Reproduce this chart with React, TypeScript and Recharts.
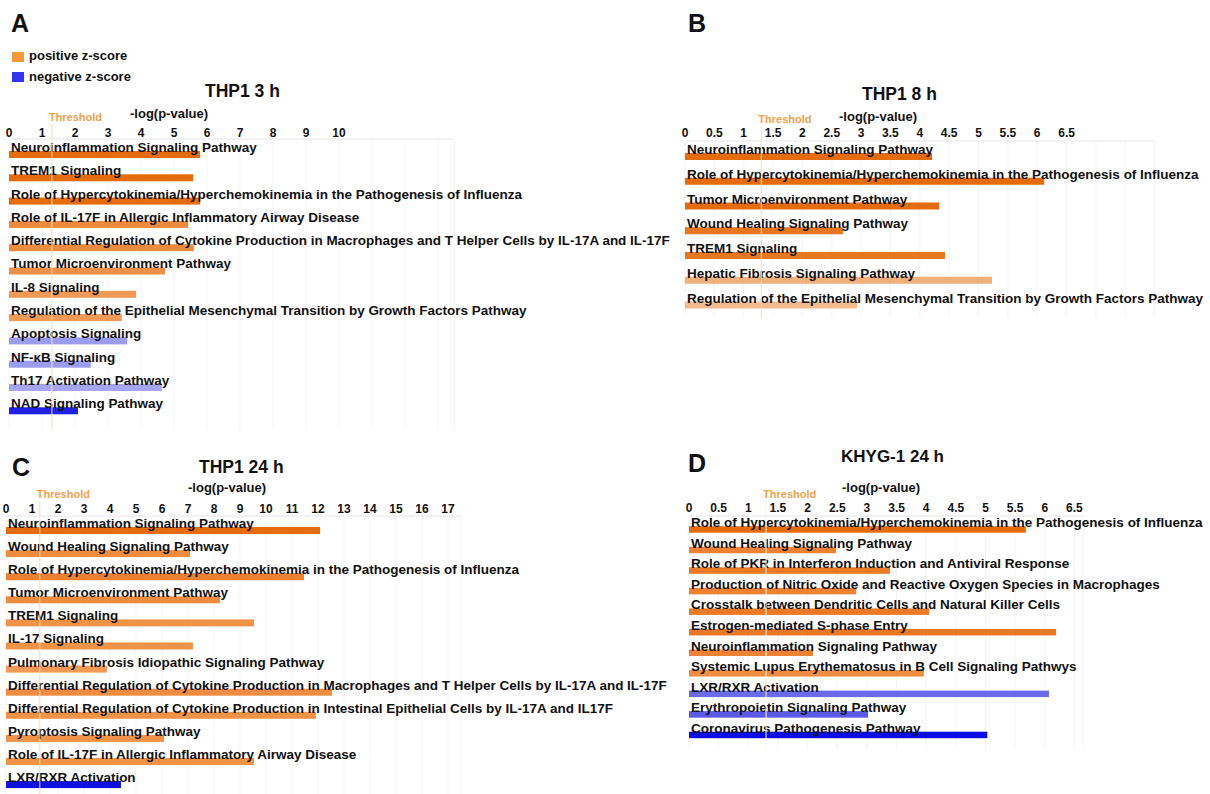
import { Bar, BarChart, CartesianGrid, ReferenceLine, XAxis, YAxis } from "recharts";

const FONT = "Arial, 'Liberation Sans', Helvetica, sans-serif";
const THRESHOLD = 1.3; // -log10(0.05)

// Panel A - THP1 3 h
const A_NAMES = [
  "Neuroinflammation Signaling Pathway",
  "TREM1 Signaling",
  "Role of Hypercytokinemia/Hyperchemokinemia in the Pathogenesis of Influenza",
  "Role of IL-17F in Allergic Inflammatory Airway Disease",
  "Differential Regulation of Cytokine Production in Macrophages and T Helper Cells by IL-17A and IL-17F",
  "Tumor Microenvironment Pathway",
  "IL-8 Signaling",
  "Regulation of the Epithelial Mesenchymal Transition by Growth Factors Pathway",
  "Apoptosis Signaling",
  "NF-κB Signaling",
  "Th17 Activation Pathway",
  "NAD Signaling Pathway",
];
const A_VALUES = [5.79, 5.58, 5.79, 5.43, 5.6, 4.73, 3.85, 3.42, 3.58, 2.48, 4.63, 2.09];
const A_COLORS = [
  "#e46c0a", "#e46c0a", "#e46c0a", "#ec8a3e", "#ec8a3e", "#ee9048",
  "#f09a55", "#f09a55", "#9c9cee", "#9c9cee", "#a4a4f0", "#1f1fe6",
];
const A_TICKS = [0, 1, 2, 3, 4, 5, 6, 7, 8, 9, 10, 11, 12, 13];

// Panel B - THP1 8 h
const B_NAMES = [
  "Neuroinflammation Signaling Pathway",
  "Role of Hypercytokinemia/Hyperchemokinemia in the Pathogenesis of Influenza",
  "Tumor Microenvironment Pathway",
  "Wound Healing Signaling Pathway",
  "TREM1 Signaling",
  "Hepatic Fibrosis Signaling Pathway",
  "Regulation of the Epithelial Mesenchymal Transition by Growth Factors Pathway",
];
const B_VALUES = [4.21, 6.12, 4.33, 2.69, 4.43, 5.23, 2.93];
const B_COLORS = ["#e46c0a", "#e46c0a", "#e46c0a", "#e8761c", "#e8781e", "#f2b07a", "#f4bc8e"];
const B_TICKS = [0, 0.5, 1, 1.5, 2, 2.5, 3, 3.5, 4, 4.5, 5, 5.5, 6, 6.5, 7, 7.5, 8];

// Panel C - THP1 24 h
const C_NAMES = [
  "Neuroinflammation Signaling Pathway",
  "Wound Healing Signaling Pathway",
  "Role of Hypercytokinemia/Hyperchemokinemia in the Pathogenesis of Influenza",
  "Tumor Microenvironment Pathway",
  "TREM1 Signaling",
  "IL-17 Signaling",
  "Pulmonary Fibrosis Idiopathic Signaling Pathway",
  "Differential Regulation of Cytokine Production in Macrophages and T Helper Cells by IL-17A and IL-17F",
  "Differential Regulation of Cytokine Production in Intestinal Epithelial Cells by IL-17A and IL17F",
  "Pyroptosis Signaling Pathway",
  "Role of IL-17F in Allergic Inflammatory Airway Disease",
  "LXR/RXR Activation",
];
const C_VALUES = [12.08, 7.08, 11.46, 8.23, 9.54, 7.19, 3.88, 12.54, 11.92, 6.08, 9.54, 4.42];
const C_COLORS = [
  "#e46c0a", "#ee8c40", "#eb8030", "#ee8c40", "#ef9347", "#ef9347",
  "#f09a55", "#ee8c40", "#ef9347", "#ef9347", "#ef9347", "#1010e0",
];
const C_TICKS = [0, 1, 2, 3, 4, 5, 6, 7, 8, 9, 10, 11, 12, 13, 14, 15, 16, 17];

// Panel D - KHYG-1 24 h
const D_NAMES = [
  "Role of Hypercytokinemia/Hyperchemokinemia in the Pathogenesis of Influenza",
  "Wound Healing Signaling Pathway",
  "Role of PKR in Interferon Induction and Antiviral Response",
  "Production of Nitric Oxide and Reactive Oxygen Species in Macrophages",
  "Crosstalk between Dendritic Cells and Natural Killer Cells",
  "Estrogen-mediated S-phase Entry",
  "Neuroinflammation Signaling Pathway",
  "Systemic Lupus Erythematosus in B Cell Signaling Pathwys",
  "LXR/RXR Activation",
  "Erythropoietin Signaling Pathway",
  "Coronavirus Pathogenesis Pathway",
];
const D_VALUES = [5.68, 2.48, 3.39, 2.82, 4.05, 6.19, 2.09, 3.96, 6.07, 3.02, 5.03];
const D_COLORS = [
  "#e46c0a", "#ec8232", "#ea7a25", "#ec8232", "#ea7a25", "#e97826",
  "#ec8232", "#ee8c40", "#6b6bea", "#5a5ae6", "#0c0ce4",
];
const D_TICKS = [0, 0.5, 1, 1.5, 2, 2.5, 3, 3.5, 4, 4.5, 5, 5.5, 6, 6.5];

type PanelProps = {
  names: string[];
  values: number[];
  colors: string[];
  ticks: number[];
  maxLabel: number;
  domainMax: number;
  zeroX: number;
  axisY: number;
  unitPx: number;
  band: number;
  padTop: number;
  padBottom: number;
  width: number;
  tickGap: number;
  barSize?: number;
  lineColor?: string;
};

const AXIS_H = 40;
const LEFT = 6;

function Panel({
  names,
  values,
  colors,
  ticks,
  maxLabel,
  domainMax,
  zeroX,
  axisY,
  unitPx,
  band,
  padTop,
  padBottom,
  width,
  tickGap,
  barSize = 7,
  lineColor = "#f8dcb6",
}: PanelProps) {
  const data = names.map((name, i) => ({ name, value: values[i] }));
  const plotW = domainMax * unitPx;
  const plotH = padTop + names.length * band + padBottom;

  const barShape = (p: any) => {
    const i = typeof p.index === "number" ? p.index : names.indexOf(p.payload?.name);
    return (
      <g>
        <rect x={p.x} y={p.y} width={Math.max(p.width, 0)} height={p.height} fill={colors[i]} />
        <text
          x={p.x + 2}
          y={p.y + 1}
          fontSize={13.5}
          fontWeight={700}
          fontFamily={FONT}
          fill="#111"
        >
          {names[i]}
        </text>
      </g>
    );
  };

  const thresholdShape = (p: any) => {
    const top = Math.min(p.y1, p.y2);
    const bottom = Math.max(p.y1, p.y2);
    return (
      <g>
        <line x1={p.x1} x2={p.x1} y1={top - 15} y2={bottom} stroke={lineColor} strokeWidth={1} />
        <text x={p.x1 - 3} y={top - 18} fontSize={11} fontWeight={700} fontFamily={FONT} fill="#f0a24c">
          Threshold
        </text>
      </g>
    );
  };

  return (
    <div style={{ position: "absolute", left: zeroX - LEFT, top: axisY - AXIS_H }}>
      <BarChart
        layout="vertical"
        width={width}
        height={AXIS_H + plotH}
        data={data}
        margin={{ top: 0, right: width - LEFT - plotW, bottom: 0, left: LEFT }}
      >
        <CartesianGrid horizontal={false} stroke="#f4f4f4" />
        <XAxis
          type="number"
          orientation="top"
          domain={[0, domainMax]}
          ticks={ticks}
          interval={0}
          height={AXIS_H}
          axisLine={{ stroke: "#e6e6e6" }}
          tickLine={false}
          tickSize={0}
          tickMargin={tickGap}
          tickFormatter={(v: number) => (v <= maxLabel ? String(v) : "")}
          tick={{ fill: "#111", fontSize: 12, fontWeight: 700, fontFamily: FONT }}
        />
        <YAxis type="category" dataKey="name" hide width={0} padding={{ top: padTop, bottom: padBottom }} />
        <ReferenceLine x={THRESHOLD} ifOverflow="visible" shape={thresholdShape} />
        <Bar dataKey="value" barSize={barSize} isAnimationActive={false} shape={barShape} />
      </BarChart>
    </div>
  );
}

export default function App() {
  return (
    <div
      style={{
        position: "absolute",
        left: 0,
        top: 0,
        width: 1210,
        height: 794,
        overflow: "hidden",
        background: "#fff",
        fontFamily: FONT,
      }}
    >
      <Panel
        names={A_NAMES}
        values={A_VALUES}
        colors={A_COLORS}
        ticks={A_TICKS}
        maxLabel={10}
        domainMax={13.5}
        zeroX={9}
        axisY={139}
        unitPx={33}
        band={23.3}
        padTop={4}
        padBottom={7.5}
        width={690}
        tickGap={2}
      />
      <Panel
        names={B_NAMES}
        values={B_VALUES}
        colors={B_COLORS}
        ticks={B_TICKS}
        maxLabel={6.5}
        domainMax={8}
        zeroX={685}
        axisY={141}
        unitPx={58.7}
        band={24.75}
        padTop={3}
        padBottom={1}
        width={531}
        tickGap={4}
      />
      <Panel
        names={C_NAMES}
        values={C_VALUES}
        colors={C_COLORS}
        ticks={C_TICKS}
        maxLabel={17}
        domainMax={17.5}
        zeroX={6}
        axisY={516}
        unitPx={26}
        band={23.1}
        padTop={3}
        padBottom={6}
        width={680}
        tickGap={3}
      />
      <Panel
        names={D_NAMES}
        values={D_VALUES}
        colors={D_COLORS}
        ticks={D_TICKS}
        maxLabel={6.5}
        domainMax={6.65}
        zeroX={689}
        axisY={516}
        unitPx={59.3}
        band={20.55}
        padTop={3.2}
        padBottom={4}
        width={521}
        tickGap={4.5}
        barSize={6.5}
        lineColor="#fcf1e2"
      />
      <svg
        width={1210}
        height={794}
        style={{ position: "absolute", left: 0, top: 0, pointerEvents: "none" }}
        fontFamily={FONT}
        fontWeight={700}
        fill="#111"
      >
        <text x={11} y={32} fontSize={25}>A</text>
        <rect x={12} y={52} width={12} height={10} fill="#f29a38" />
        <text x={29} y={60} fontSize={13}>positive z-score</text>
        <rect x={12} y={72} width={12} height={10} fill="#3434ee" />
        <text x={29} y={81} fontSize={13}>negative z-score</text>
        <text x={205} y={97} fontSize={17.5}>THP1 3 h</text>
        <text x={130} y={118} fontSize={13}>-log(p-value)</text>

        <text x={688} y={32} fontSize={25}>B</text>
        <text x={862} y={100} fontSize={17.5}>THP1 8 h</text>
        <text x={839} y={121} fontSize={13}>-log(p-value)</text>

        <text x={12} y={476} fontSize={25}>C</text>
        <text x={199} y={473} fontSize={17.5}>THP1 24 h</text>
        <text x={188} y={492} fontSize={13}>-log(p-value)</text>

        <text x={688} y={472} fontSize={25}>D</text>
        <text x={841} y={462} fontSize={17}>KHYG-1 24 h</text>
        <text x={842} y={492} fontSize={13}>-log(p-value)</text>
      </svg>
    </div>
  );
}
